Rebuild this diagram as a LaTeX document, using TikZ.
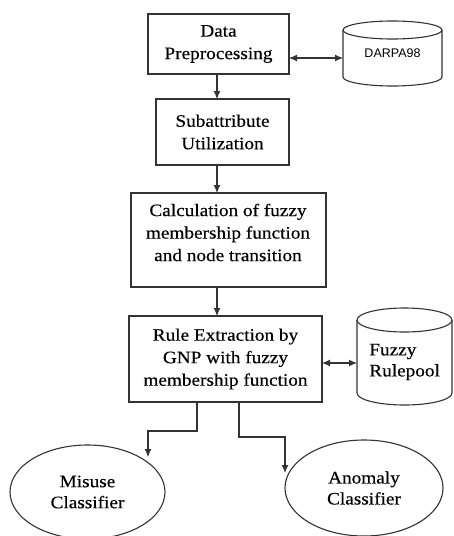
\documentclass[tikz,border=0pt]{standalone}
\usepackage{fontspec}
\setmainfont{Liberation Serif}
\newfontfamily\boxfont[FakeStretch=1.1,FakeBold=0.3]{Liberation Serif}
\newfontfamily\dbfont{Liberation Sans}
\usetikzlibrary{shapes.geometric,arrows.meta}
\begin{document}
\begin{tikzpicture}[x=1pt,y=1pt,
  every node/.style={outer sep=0pt},
  box/.style={draw=black!80, line width=1.1pt, inner sep=0pt},
  txt/.style={align=center, font=\boxfont\fontsize{17.5}{22.5}\selectfont},
  oval/.style={draw=black!80, line width=1.1pt, ellipse, inner sep=0pt, align=center, font=\boxfont\fontsize{17.5}{21}\selectfont},
  conn/.style={draw=black!80, line width=1.1pt, -{Latex[length=8pt,width=7pt]}},
  dconn/.style={draw=black!80, line width=1.1pt, {Latex[length=8pt,width=7pt]}-{Latex[length=8pt,width=7pt]}},
  cyl/.style={draw=black!80, line width=1.1pt}
]
\useasboundingbox[fill=white] (0,0) rectangle (453,-536);

% boxes
\node[box, txt, minimum width=141pt, minimum height=60pt] (b1) at (218.5,-44) {Data\\Preprocessing};
\node[box, txt, minimum width=133pt, minimum height=66pt] (b2) at (222.5,-132) {Subattribute\\Utilization};
\node[box, minimum width=195pt, minimum height=94pt] (b3) at (228.5,-240) {};
\node[txt] (b3t) at (228,-232.5) {Calculation of fuzzy\\membership function\\and node transition};
\node[box, txt, minimum width=193pt, minimum height=86pt] (b4) at (225.5,-359) {Rule Extraction by\\GNP with fuzzy\\membership function};

% DARPA98 cylinder
\node[minimum width=99pt, minimum height=65pt, inner sep=0pt, font=\dbfont\fontsize{12.5}{15}\selectfont] (darpa) at (392.5,-53.5) {DARPA98};
\draw[cyl] ([yshift=-9pt]darpa.north) ellipse [x radius=49.5pt, y radius=9pt];
\draw[cyl] ([yshift=-9pt]darpa.north west) -- ([yshift=9pt]darpa.south west)
  arc[start angle=180, end angle=360, x radius=49.5pt, y radius=9pt] -- ([yshift=-9pt]darpa.north east);

% Fuzzy Rulepool cylinder
\node[minimum width=95pt, minimum height=97pt, inner sep=0pt] (pool) at (404.5,-356.5) {};
\draw[cyl] ([yshift=-12pt]pool.north) ellipse [x radius=47.5pt, y radius=12pt];
\draw[cyl] ([yshift=-12pt]pool.north west) -- ([yshift=12pt]pool.south west)
  arc[start angle=180, end angle=360, x radius=47.5pt, y radius=12pt] -- ([yshift=-12pt]pool.north east);
\node[anchor=west, align=left, font=\boxfont\fontsize{17.5}{21}\selectfont] (poolt) at (366,-362) {Fuzzy\\Rulepool};

% classifiers
\node[oval, minimum width=155pt, minimum height=94pt] (mis) at (87.5,-492) {Misuse\\Classifier};
\node[oval, minimum width=158pt, minimum height=96pt] (ano) at (364,-488) {Anomaly\\Classifier};

% connectors
\draw[conn] (b1.south -| 217,0) -- (b2.north -| 217,0);
\draw[conn] (b2.south -| 217,0) -- (b3.north -| 217,0);
\draw[conn] (b3.south -| 217,0) -- (b4.north -| 217,0);
\draw[dconn] (b1.east |- 0,-58) -- (darpa.west |- 0,-58);
\draw[dconn] (b4.east |- 0,-363) -- (pool.west |- 0,-363);

\coordinate (m1) at (197,-431);
\coordinate (m2) at (148,-431);
\coordinate (m3) at (148,-457);
\draw[conn] (b4.south -| m1) -- (m1) -- (m2) -- (m3);
\coordinate (a1) at (239,-437);
\coordinate (a2) at (285,-437);
\coordinate (a3) at (285,-473);
\draw[conn] (b4.south -| a1) -- (a1) -- (a2) -- (a3);
\end{tikzpicture}
\end{document}
